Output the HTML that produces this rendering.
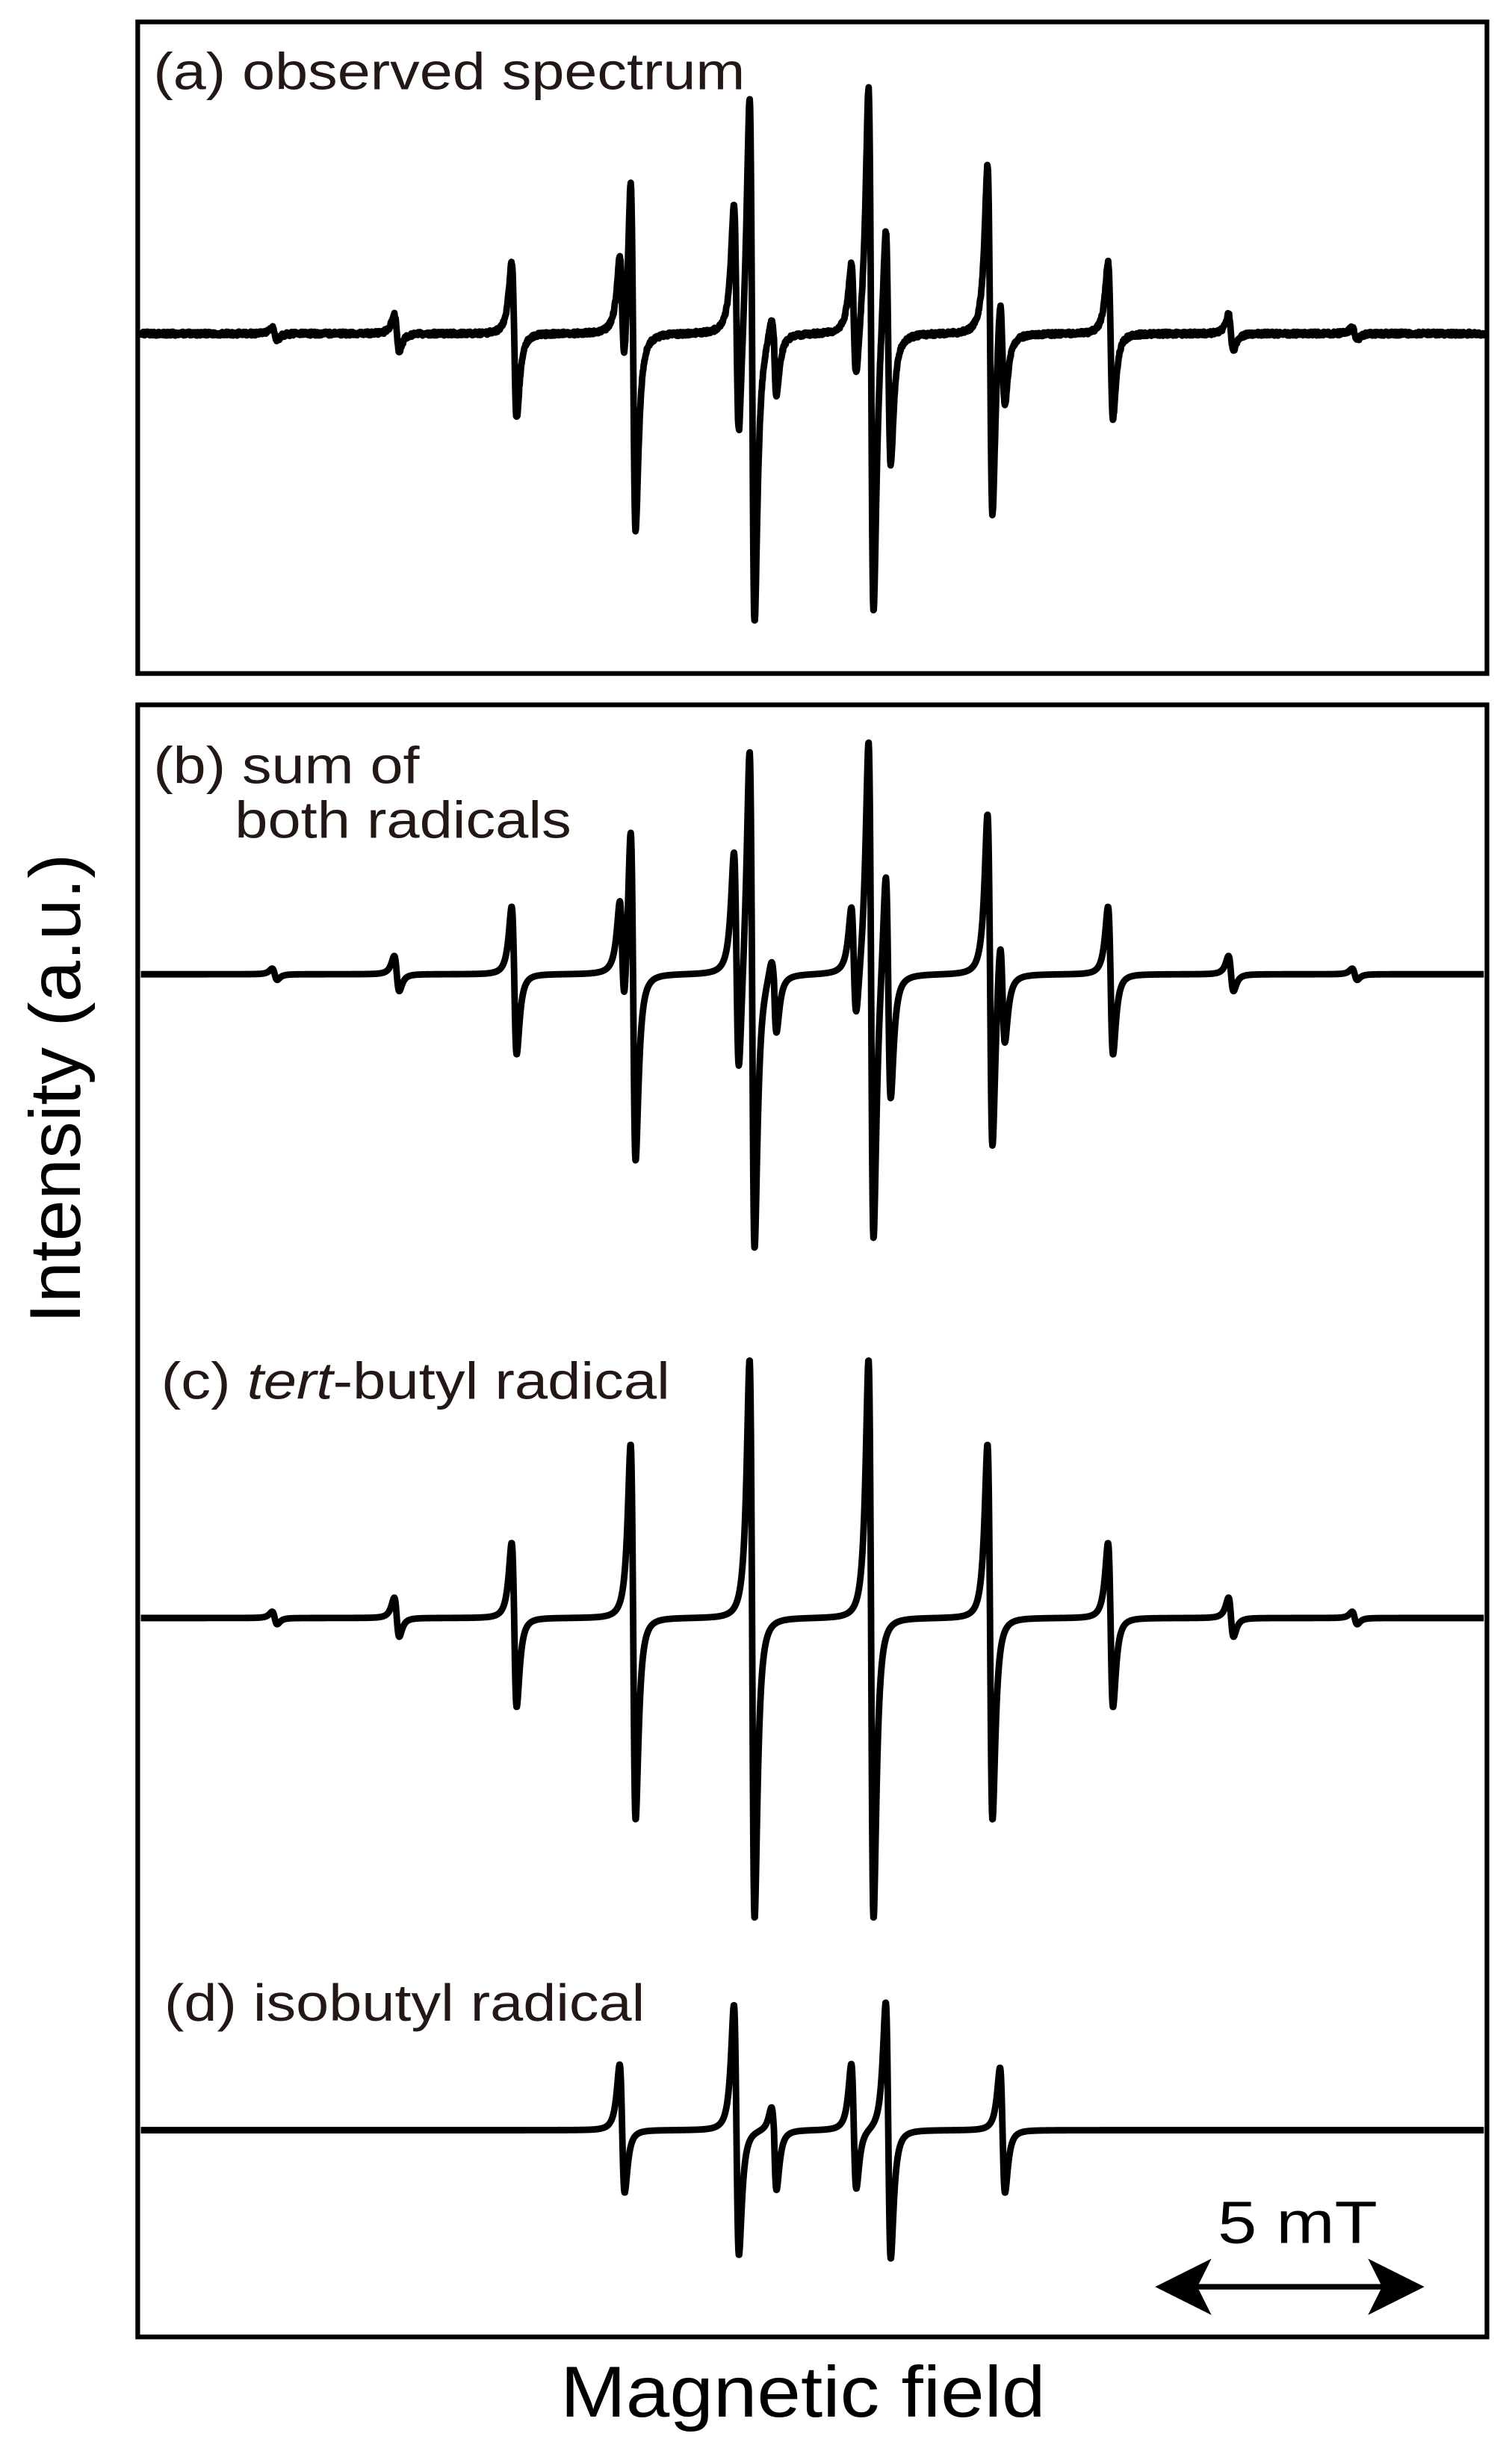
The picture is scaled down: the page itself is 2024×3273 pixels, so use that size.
<!DOCTYPE html>
<html><head><meta charset="utf-8"><style>
html,body{margin:0;padding:0;background:#fff}
svg{display:block}
text{font-family:"Liberation Sans",sans-serif;fill:#231815}
</style></head><body>
<svg id="s" width="2024" height="3273" viewBox="0 0 966 1561" preserveAspectRatio="none" xmlns="http://www.w3.org/2000/svg">
<rect x="88" y="14" width="862" height="416" fill="none" stroke="#000" stroke-width="3"/>
<rect x="88" y="450" width="862" height="1042" fill="none" stroke="#000" stroke-width="3"/>
<text x="98" y="57" font-size="33" textLength="378" lengthAdjust="spacingAndGlyphs">(a) observed spectrum</text>
<text x="98" y="500" font-size="33" textLength="170" lengthAdjust="spacingAndGlyphs">(b) sum of</text>
<text x="150" y="535" font-size="33" textLength="215" lengthAdjust="spacingAndGlyphs">both radicals</text>
<text x="103" y="893" font-size="33" textLength="325" lengthAdjust="spacingAndGlyphs">(c) <tspan font-style="italic">tert</tspan>-butyl radical</text>
<text x="105" y="1290" font-size="33" textLength="307" lengthAdjust="spacingAndGlyphs">(d) isobutyl radical</text>
<text transform="translate(51,695) rotate(-90)" text-anchor="middle" font-size="46" textLength="300" lengthAdjust="spacingAndGlyphs" style="fill:#000">Intensity (a.u.)</text>
<text x="513" y="1543" text-anchor="middle" font-size="46" textLength="310" lengthAdjust="spacingAndGlyphs" style="fill:#000">Magnetic field</text>
<text x="829" y="1432" text-anchor="middle" font-size="38" textLength="102" lengthAdjust="spacingAndGlyphs" style="fill:#000">5 mT</text>
<line x1="760" y1="1460" x2="888" y2="1460" stroke="#000" stroke-width="3.5"/>
<polygon points="738,1460 774,1442 765,1460 774,1478" fill="#000"/>
<polygon points="910,1460 874,1442 883,1460 874,1478" fill="#000"/>
<g id="g" fill="none" stroke="#000" stroke-width="4.2" stroke-linejoin="round"></g>
</svg>
<script>
var tb=[[175,4,4],[253,13,12],[328,48,57],[404,111,129],[480,165,192],[556,165,192],[632,111,129],[709,48,57],[786,13,12],[865,4,4]];
var ib=[[397,42,40],[470,80,80],[494,15,38],[545,42,38],[567,82,82],[640,40,40]];
function f(lines,x,w){var s=0;for(var i=0;i<lines.length;i++){var l=lines[i];var d=(x-l[0]-0.5)/w;var g=-d/Math.pow(1+d*d,2)/0.3248;s+=(d<0?l[1]:l[2])*g;}return s;}
var seed=1;function rnd(){seed=(seed*16807)%2147483647;return seed/2147483647-0.5;}
function draw(base,lines,scale,noise){var p="";for(var x=90;x<=948;x+=0.25){var y=base-f(lines,x,2.8)*scale+(noise?rnd()*noise:0);p+=(x==90?"M":"L")+x.toFixed(2)+","+y.toFixed(2);}
var e=document.createElementNS("http://www.w3.org/2000/svg","path");e.setAttribute("d",p);document.getElementById("g").appendChild(e);}
draw(1033,tb,1,0);
draw(1360,ib,1,0);
var all=tb.concat(ib);
draw(622,all,0.9,0);
draw(213,all,0.95,2.5);
</script>
</body></html>
